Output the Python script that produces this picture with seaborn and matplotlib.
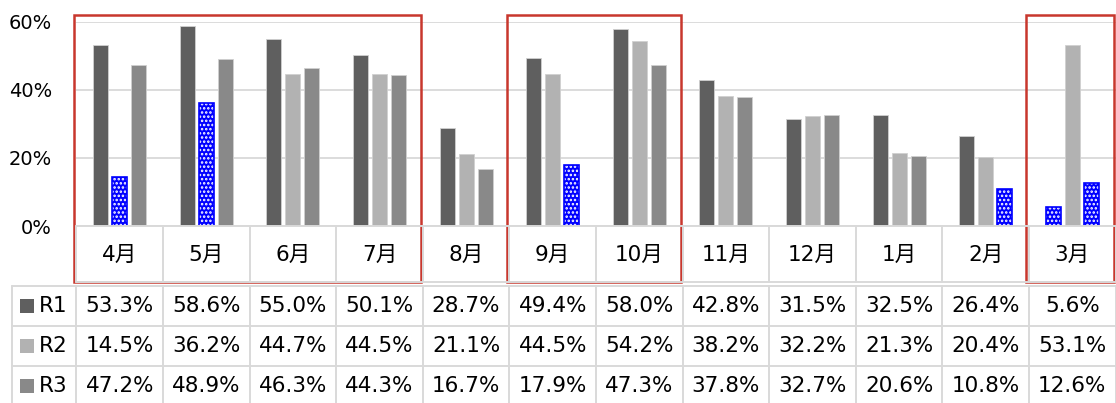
import pandas as pd
import seaborn as sns
import matplotlib.pyplot as plt
from matplotlib.patches import Rectangle

# data (percent)
months = ["4月", "5月", "6月", "7月", "8月", "9月", "10月", "11月", "12月", "1月", "2月", "3月"]
series = ["R1", "R2", "R3"]
r1 = [53.3, 58.6, 55.0, 50.1, 28.7, 49.4, 58.0, 42.8, 31.5, 32.5, 26.4, 5.6]
r2 = [14.5, 36.2, 44.7, 44.5, 21.1, 44.5, 54.2, 38.2, 32.2, 21.3, 20.4, 53.1]
r3 = [47.2, 48.9, 46.3, 44.3, 16.7, 17.9, 47.3, 37.8, 32.7, 20.6, 10.8, 12.6]
yticks = [0, 20, 40, 60]
highlight = [("R2", "4月"), ("R2", "5月"), ("R3", "9月"), ("R3", "2月"), ("R1", "3月"), ("R3", "3月")]
boxes = [("4月", "7月"), ("9月", "10月"), ("3月", "3月")]

colors = ["#5f5f5f", "#b2b2b2", "#898989"]
grid_c = "#d9d9d9"
red = "#c8372d"
blue = "#0000ff"

df = pd.DataFrame({
    "month": months * 3,
    "series": [s for s in series for _ in months],
    "value": r1 + r2 + r3,
})

sns.set_style("white")
plt.rcParams['font.family'] = ['DejaVu Sans', 'Noto Sans CJK JP']
plt.rcParams['text.color'] = 'black'
plt.rcParams['hatch.linewidth'] = 1.2

W, H = 1116, 403
x0, x1 = 76.4, 1115.6      # plot left/right in px
y_top, y_zero = 21.7, 226  # 60% line and 0% line in px
fig = plt.figure(figsize=(W / 100, H / 100), dpi=100)
ax = fig.add_axes([x0 / W, (H - y_zero) / H, (x1 - x0) / W, (y_zero - y_top) / H])

sns.barplot(data=df, x="month", y="value", hue="series", order=months, hue_order=series,
            palette=colors, saturation=1, width=0.66, gap=0.21, errorbar=None,
            edgecolor="#d0d0d0", linewidth=0.6, legend=False, ax=ax)

for s, m in highlight:
    bar = ax.containers[series.index(s)][months.index(m)]
    bar.set_facecolor(blue)
    bar.set_edgecolor("white")
    bar.set_hatch("....")
    bar.set_linewidth(0)
    ax.add_patch(Rectangle(bar.get_xy(), bar.get_width(), bar.get_height(),
                           fill=False, edgecolor=blue, linewidth=1.2, zorder=3))

ax.set_xlim(-0.5, len(months) - 0.5)
ax.set_ylim(0, 60)
ax.set_yticks(yticks)
ax.set_yticklabels([f"{t}%" for t in yticks])
ax.set_xticks([])
ax.set_xlabel("")
ax.set_ylabel("")
ax.tick_params(axis='y', length=0, pad=17.5, labelsize=14, colors="black")
ax.yaxis.grid(True, color=grid_c, linewidth=1.3)
ax.set_axisbelow(True)
for sp in ax.spines.values():
    sp.set_visible(False)

# data table underneath
tax = fig.add_axes([x0 / W, 0, (x1 - x0) / W, (H - y_zero) / H])
tax.set_xlim(-0.5, len(months) - 0.5)
tax.set_ylim(H, y_zero)
tax.axis("off")
unit = (x1 - x0) / len(months)
px = lambda p: (p - x0) / unit - 0.5
xl = px(12)
lk = dict(color=grid_c, linewidth=1.4, clip_on=False)

cat_bot, row_lines = 282, [286, 326, 366, 406]
tax.plot([-0.5, 11.5], [y_zero, y_zero], **lk)
tax.plot([-0.5, 11.5], [cat_bot, cat_bot], **lk)
for b in range(len(months) + 1):
    tax.plot([b - 0.5, b - 0.5], [y_zero, cat_bot], **lk)
    tax.plot([b - 0.5, b - 0.5], [row_lines[0], H], **lk)
tax.plot([xl, xl], [row_lines[0], H], **lk)
for y in row_lines:
    tax.plot([xl, 11.5], [y, y], **lk)

for i, m in enumerate(months):
    tax.text(i, (y_zero + cat_bot) / 2 + 1, m, ha="center", va="center", fontsize=15.5)

for k, (s, vals) in enumerate(zip(series, [r1, r2, r3])):
    yc = (row_lines[k] + row_lines[k + 1]) / 2
    tax.scatter([px(27)], [yc], marker="s", s=95, color=colors[k], clip_on=False, linewidths=0)
    tax.text(px(39), yc, s, ha="left", va="center", fontsize=15.5)
    for i, v in enumerate(vals):
        tax.text(i, yc, f"{v:.1f}%", ha="center", va="center", fontsize=15.5)

# red highlight boxes
box_top = 60 + (y_top - 15) / (y_zero - y_top) * 60
box_bot = -(cat_bot - y_zero) / (y_zero - y_top) * 60
for a, b in boxes:
    left = months.index(a) - 0.53
    right = months.index(b) + 0.48
    ax.add_patch(Rectangle((left, box_bot), right - left, box_top - box_bot, fill=False,
                           edgecolor=red, linewidth=1.8, clip_on=False, zorder=5))

plt.savefig("out.png", dpi=100)
